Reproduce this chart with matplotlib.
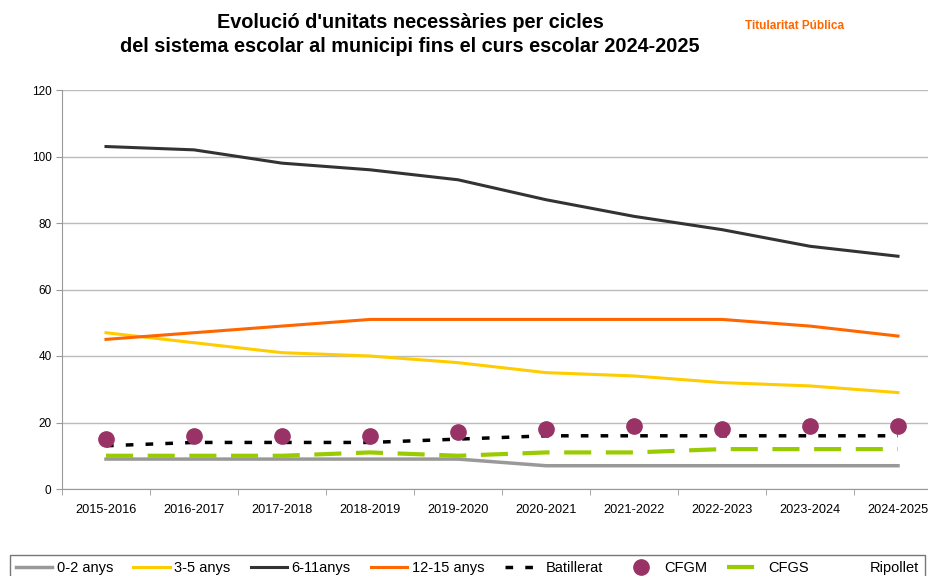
import matplotlib
matplotlib.use("Agg")
import matplotlib.pyplot as plt
from matplotlib.lines import Line2D

plt.rcParams['font.family'] = ['Liberation Sans', 'DejaVu Sans']

cursos = ['2015-2016', '2016-2017', '2017-2018', '2018-2019', '2019-2020',
          '2020-2021', '2021-2022', '2022-2023', '2023-2024', '2024-2025']
anys_0_2 = [9, 9, 9, 9, 9, 7, 7, 7, 7, 7]
anys_3_5 = [47, 44, 41, 40, 38, 35, 34, 32, 31, 29]
anys_6_11 = [103, 102, 98, 96, 93, 87, 82, 78, 73, 70]
anys_12_15 = [45, 47, 49, 51, 51, 51, 51, 51, 49, 46]
batillerat = [13, 14, 14, 14, 15, 16, 16, 16, 16, 16]
cfgm = [15, 16, 16, 16, 17, 18, 19, 18, 19, 19]
cfgs = [10, 10, 10, 11, 10, 11, 11, 12, 12, 12]

fig = plt.figure(figsize=(9.29, 5.76), dpi=100)
ax = fig.add_axes([62/929, 87/576, 880/929, 399/576])

x = range(len(cursos))
ax.plot(x, anys_0_2, color='#999999', lw=2.5, label='0-2 anys', zorder=3)
ax.plot(x, anys_3_5, color='#ffcc00', lw=2.2, label='3-5 anys', zorder=3)
ax.plot(x, anys_6_11, color='#333333', lw=2.2, label='6-11anys', zorder=3)
ax.plot(x, anys_12_15, color='#ff6600', lw=2.2, label='12-15 anys', zorder=3)
ax.plot(x, batillerat, color='black', lw=2.5, ls=(0, (2.2, 3.5)), label='Batillerat', zorder=4)
ax.plot(x, cfgm, ls='none', marker='o', ms=11, color='#993366', label='CFGM', zorder=5)
ax.plot(x, cfgs, color='#99cc00', lw=3, ls=(0, (6.5, 3.5)), label='CFGS', zorder=3)

ax.set_xlim(-0.5, len(cursos) - 0.5)
ax.set_ylim(0, 120)
ax.set_yticks(range(0, 121, 20))
ax.set_xticks(x)
ax.set_xticklabels(cursos, fontsize=9.2)
ax.set_xticks([i - 0.5 for i in range(len(cursos) + 1)], minor=True)
ax.tick_params(axis='x', which='major', length=0, pad=11)
ax.tick_params(axis='x', which='minor', length=4, color='#999999')
ax.tick_params(axis='y', labelsize=8.5, length=4, color='#999999')
ax.grid(axis='y', color='#bbbbbb', lw=1)
ax.set_axisbelow(True)
for s in ['top', 'right']:
    ax.spines[s].set_visible(False)
for s in ['left', 'bottom']:
    ax.spines[s].set_color('#999999')

fig.text(410/929, 1 - 22/576, "Evolució d'unitats necessàries per cicles", ha='center', va='center',
         fontsize=14.3, fontweight='bold')
fig.text(410/929, 1 - 46/576, "del sistema escolar al municipi fins el curs escolar 2024-2025",
         ha='center', va='center', fontsize=14.3, fontweight='bold')
fig.text(795/929, 1 - 26/576, 'Titularitat Pública', ha='center', va='center',
         fontsize=8.5, fontweight='bold', color='#ff6600')

handles, labels = ax.get_legend_handles_labels()
handles.append(Line2D([], [], ls='none'))
labels.append('Ripollet')
leg = fig.legend(handles, labels, loc='upper left', ncol=8, mode='expand',
                 bbox_to_anchor=(10/929, 1 - 555/576 - 0.06, 915/929, 0.06),
                 fontsize=10.5, frameon=True, fancybox=False, borderaxespad=0,
                 handlelength=2.5, handletextpad=0.3, columnspacing=0.8)
leg.get_frame().set_edgecolor('#555555')
leg.get_frame().set_linewidth(1)

fig.savefig('out.png', dpi=100)
